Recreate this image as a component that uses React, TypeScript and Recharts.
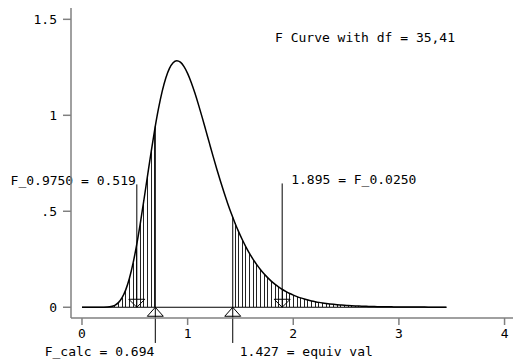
import React from "react";
import {
  ComposedChart, Line, Bar, Scatter, XAxis, YAxis, ReferenceLine, Label,
} from "recharts";

// F density, df = 35,41, sampled along x
const fx = [
  0, 0.0345, 0.069, 0.1035, 0.138, 0.1725, 0.207, 0.2415, 0.276, 0.3105,
  0.345, 0.3795, 0.414, 0.4485, 0.483, 0.5175, 0.552, 0.5865, 0.621, 0.6555,
  0.69, 0.7245, 0.759, 0.7935, 0.828, 0.8625, 0.897, 0.9315, 0.966, 1.0005,
  1.035, 1.0695, 1.104, 1.1385, 1.173, 1.2075, 1.242, 1.2765, 1.311, 1.3455,
  1.38, 1.4145, 1.449, 1.4835, 1.518, 1.5525, 1.587, 1.6215, 1.656, 1.6905,
  1.725, 1.7595, 1.794, 1.8285, 1.863, 1.8975, 1.932, 1.9665, 2.001, 2.0355,
  2.07, 2.1045, 2.139, 2.1735, 2.208, 2.2425, 2.277, 2.3115, 2.346, 2.3805,
  2.415, 2.4495, 2.484, 2.5185, 2.553, 2.5875, 2.622, 2.6565, 2.691, 2.7255,
  2.76, 2.7945, 2.829, 2.8635, 2.898, 2.9325, 2.967, 3.0015, 3.036, 3.0705,
  3.105, 3.1395, 3.174, 3.2085, 3.243, 3.2775, 3.312, 3.3465, 3.381, 3.4155,
  3.45,
];

const density = [
  0, 0, 0, 0, 0, 0, 0.0002, 0.001, 0.0036, 0.0102,
  0.0242, 0.0497, 0.0905, 0.1497, 0.2282, 0.3252, 0.4374, 0.5601, 0.6872, 0.8126,
  0.9305, 1.0357, 1.1246, 1.1945, 1.2443, 1.2739, 1.2841, 1.2766, 1.2534, 1.217,
  1.1699, 1.1145, 1.053, 0.9877, 0.9202, 0.8522, 0.7848, 0.7192, 0.6561, 0.5961,
  0.5396, 0.4869, 0.4379, 0.3927, 0.3514, 0.3136, 0.2794, 0.2484, 0.2205, 0.1955,
  0.173, 0.153, 0.1351, 0.1192, 0.1051, 0.0925, 0.0815, 0.0717, 0.063, 0.0554,
  0.0487, 0.0428, 0.0376, 0.033, 0.029, 0.0254, 0.0223, 0.0196, 0.0172, 0.0151,
  0.0133, 0.0117, 0.0102, 0.009, 0.0079, 0.0069, 0.0061, 0.0054, 0.0047, 0.0042,
  0.0037, 0.0032, 0.0028, 0.0025, 0.0022, 0.002, 0.0017, 0.0015, 0.0013, 0.0012,
  0.0011, 0.0009, 0.0008, 0.0007, 0.0007, 0.0006, 0.0005, 0.0005, 0.0004, 0.0004,
  0.0003,
];

// critical values (down markers) and observed values (up markers)
const critValues = [0.519, 1.895];
const critLabels = ["F_0.9750 = 0.519", "1.895 = F_0.0250"];
const critTops = [0.64, 0.645];

const statValues = [0.694, 1.427];
const statLabels = ["F_calc = 0.694", "1.427 = equiv val"];
const statTops = [0.943, 0.469];
const statBottom = -0.186;

const xTicks = [0, 1, 2, 3, 4];
const yTicks = [0, 0.5, 1, 1.5];

const title = "F Curve with df = 35,41";

const FONT = "'DejaVu Sans Mono', monospace";

const table = fx.map((x, i) => ({
  x,
  f: density[i],
  hatch: x <= statValues[0] || x >= statValues[1] ? density[i] : null,
}));

const downData = critValues.map((x) => ({ x, y: 0 }));
const upData = statValues.map((x) => ({ x, y: 0 }));

const DownTri = (p: any) => (
  <path d={`M${p.cx - 8},${p.cy - 8}L${p.cx + 8},${p.cy - 8}L${p.cx},${p.cy}Z`} fill="none" stroke="#000" />
);
const UpTri = (p: any) => (
  <path d={`M${p.cx - 8},${p.cy + 9}L${p.cx + 8},${p.cy + 9}L${p.cx},${p.cy}Z`} fill="none" stroke="#000" />
);

// one crisp 1px stroke per hatch bar
const HatchLine = (p: any) => {
  if (!p.height) return <g />;
  return (
    <rect
      x={Math.round(p.x + p.width / 2 - 0.5)}
      y={p.y}
      width={1}
      height={p.height}
      fill="#222"
      shapeRendering="crispEdges"
    />
  );
};

// side: "left" puts text ending at the line, "right" starts after it; at: top/bottom of line
const lineText = (side: string, at: string) => (props: any) => {
  const vb = props.viewBox;
  const y = at === "top" ? vb.y + 1 : vb.y + vb.height + 13.5;
  const x = side === "left" ? vb.x - 1 : vb.x + (at === "top" ? 9 : 7);
  return (
    <text x={x} y={y} textAnchor={side === "left" ? "end" : "start"} fontFamily={FONT} fontSize={13} fill="#000">
      {props.value}
    </text>
  );
};

const yFmt = (v: number) => (v === 0.5 ? ".5" : String(v));

export default function App() {
  return (
    <div style={{ position: "absolute", left: 0, top: 0, width: 513, height: 360, background: "#fff" }}>
      <ComposedChart width={513} height={360} data={table} margin={{ top: 8, right: 0, bottom: 0, left: 0 }}>
        <XAxis
          type="number"
          dataKey="x"
          domain={[-0.104, 4.08]}
          ticks={xTicks}
          height={42}
          tickSize={7}
          tickMargin={4}
          stroke="#808080"
          strokeWidth={1.5}
          tick={{ fill: "#000", fontFamily: FONT, fontSize: 13 }}
        />
        <YAxis
          type="number"
          domain={[-0.056, 1.559]}
          ticks={yTicks}
          width={71}
          tickSize={8}
          tickMargin={6}
          tickFormatter={yFmt}
          stroke="#808080"
          strokeWidth={1.5}
          tick={{ fill: "#000", fontFamily: FONT, fontSize: 13 }}
        />
        <ReferenceLine
          segment={[{ x: fx[0], y: 0 }, { x: fx[fx.length - 1], y: 0 }]}
          stroke="#000"
          ifOverflow="visible"
        />
        <Bar dataKey="hatch" barSize={1} fill="#000" shape={HatchLine} isAnimationActive={false} />
        <Line type="monotone" dataKey="f" stroke="#000" strokeWidth={1.5} dot={false} isAnimationActive={false} />
        {critValues.map((v, i) => (
          <ReferenceLine
            key={"c" + i}
            segment={[{ x: v, y: 0 }, { x: v, y: critTops[i] }]}
            stroke="#000"
            ifOverflow="visible"
          >
            <Label value={critLabels[i]} content={lineText(i === 0 ? "left" : "right", "top")} />
          </ReferenceLine>
        ))}
        {statValues.map((v, i) => (
          <ReferenceLine
            key={"s" + i}
            segment={[{ x: v, y: statBottom }, { x: v, y: statTops[i] }]}
            stroke="#000"
            ifOverflow="visible"
          >
            <Label value={statLabels[i]} content={lineText(i === 0 ? "left" : "right", "bottom")} />
          </ReferenceLine>
        ))}
        <Scatter data={downData} dataKey="y" shape={DownTri} isAnimationActive={false} />
        <Scatter data={upData} dataKey="y" shape={UpTri} isAnimationActive={false} />
      </ComposedChart>
      <svg width={513} height={360} style={{ position: "absolute", left: 0, top: 0, pointerEvents: "none" }}>
        <text x={275} y={42} fontFamily={FONT} fontSize={13} fill="#000">{title}</text>
      </svg>
    </div>
  );
}
